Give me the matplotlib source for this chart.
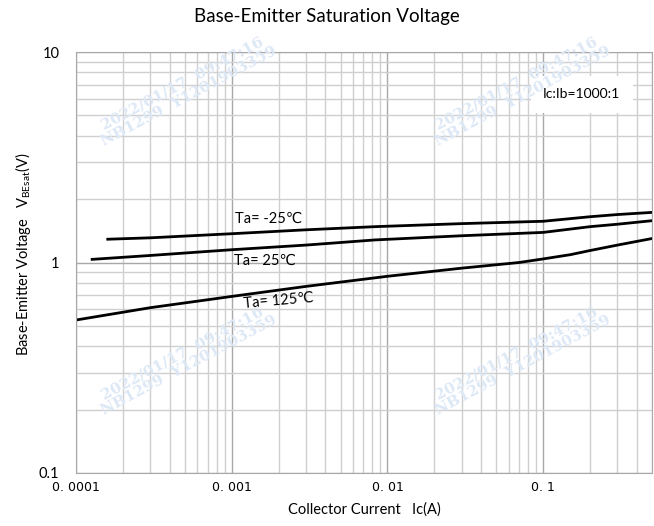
import matplotlib as mpl
mpl.use('agg')
import matplotlib.pyplot as plt
import numpy as np

# collector current Ic(A) and VBEsat(V)
ic_m25 = [1.6e-4, 3e-4, 1e-3, 3e-3, 8.3e-3, 3e-2, 1e-1, 2e-1, 3e-1, 5e-1]
vbe_m25 = [1.29, 1.31, 1.37, 1.43, 1.48, 1.53, 1.57, 1.65, 1.69, 1.73]

ic_25 = [1.27e-4, 3e-4, 1e-3, 3e-3, 8.3e-3, 3e-2, 1e-1, 2e-1, 3e-1, 5e-1]
vbe_25 = [1.035, 1.08, 1.15, 1.21, 1.28, 1.34, 1.39, 1.48, 1.52, 1.58]

ic_125 = [1e-4, 3e-4, 1e-3, 3e-3, 1e-2, 3e-2, 7e-2, 1e-1, 1.5e-1, 2e-1, 3e-1, 4e-1, 5e-1]
vbe_125 = [0.533, 0.61, 0.69, 0.77, 0.86, 0.94, 1.0, 1.04, 1.09, 1.14, 1.21, 1.26, 1.30]

xtick_vals = [1e-4, 1e-3, 1e-2, 1e-1]
xtick_labels = ["0. 0001", "0. 001", "0. 01", "0. 1"]
ytick_vals = [0.1, 1, 10]
ytick_labels = ["0.1", "1", "10"]

plt.rcParams['font.family'] = ['Lato', 'DejaVu Sans']

fig = plt.figure(figsize=(6.54, 5.26), dpi=100)
ax = fig.add_axes([0.1162, 0.1008, 0.8808, 0.8003])

ax.set_xscale('log')
ax.set_yscale('log')
ax.set_xlim(1e-4, 0.5)
ax.set_ylim(0.1, 10)

ax.grid(which='minor', color='#cfcfcf', lw=1.0)
ax.grid(which='major', color='#a8a8a8', lw=1.0)
ax.set_axisbelow(True)
for s in ax.spines.values():
  s.set_color('#a8a8a8')

ax.set_xticks(xtick_vals)
ax.set_xticklabels(xtick_labels, fontfamily='DejaVu Sans', fontsize=9)
ax.set_yticks(ytick_vals)
ax.set_yticklabels(ytick_labels, fontsize=10.5)
ax.tick_params(which='both', length=0)
ax.tick_params(axis='x', pad=6)
ax.tick_params(axis='y', pad=12)

ax.plot(ic_m25, vbe_m25, color='black', lw=2)
ax.plot(ic_25, vbe_25, color='black', lw=2)
ax.plot(ic_125, vbe_125, color='black', lw=2)

ax.text(0.00105, 1.62, "Ta= -25℃", fontsize=10.5, va='center', family=['Lato', 'DejaVu Sans'])
ax.text(0.00103, 1.02, "Ta= 25℃", fontsize=10.5, va='center', family=['Lato', 'DejaVu Sans'])
ax.text(0.00118, 0.655, "Ta= 125℃", fontsize=10.5, va='center', rotation=5,
        family=['Lato', 'DejaVu Sans'])

ax.text(0.945, 0.9, "Ic:Ib=1000:1", transform=ax.transAxes, ha='right', va='center',
        fontsize=10, bbox=dict(facecolor='white', edgecolor='none', pad=9))

# faint watermarks
for wx, wy in [(0.19, 0.91), (0.77, 0.91), (0.19, 0.27), (0.77, 0.27)]:
  ax.text(wx, wy, "2022/01/17  09:47:16\nNB1299  Y1201903359", transform=ax.transAxes,
          ha='center', va='center', rotation=28, fontsize=11, color='#dde8f6',
          fontfamily='DejaVu Serif', fontweight='bold', linespacing=1.0)

ax.set_xlabel("Collector Current   Ic(A)", fontsize=10.5, labelpad=6)
ax.set_ylabel(r"Base-Emitter Voltage   V$\mathregular{_{BEsat}}$(V)", fontsize=10.5)
ax.yaxis.set_label_coords(-0.075, 0.52)
fig.suptitle("Base-Emitter Saturation Voltage", fontsize=13.5, y=0.985)

fig.savefig("out.png", dpi=100)
